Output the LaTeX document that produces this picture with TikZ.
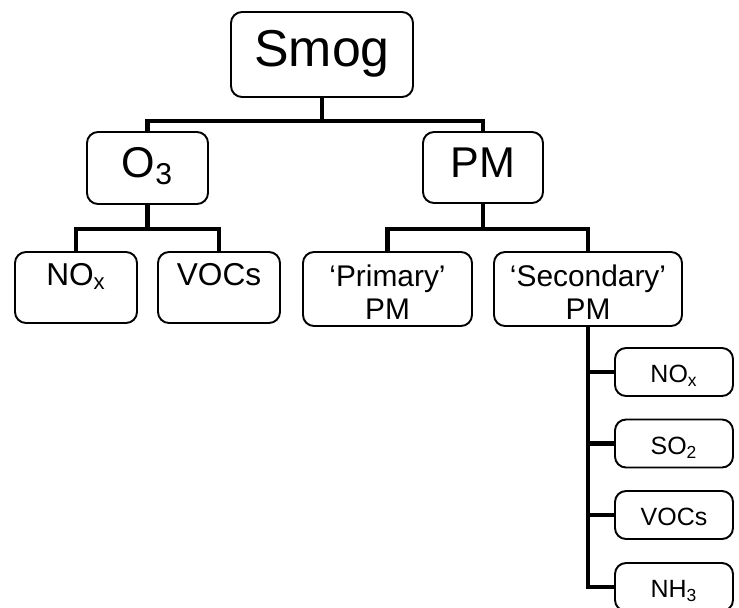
\documentclass[tikz,border=0pt]{standalone}
\usepackage{fontspec}
\setmainfont{Liberation Sans}

\begin{document}
\begin{tikzpicture}[
    box/.style={draw, line width=1.1pt, rounded corners=0.22cm, fill=white, align=center, inner sep=0pt},
    big/.style={font=\fontsize{29.5}{32}\selectfont, text height=21pt, text depth=6.8pt},
    mid/.style={font=\fontsize{24.5}{27}\selectfont, text height=12pt, text depth=0.7pt},
    low/.style={font=\fontsize{18}{19.5}\selectfont, text height=13pt, text depth=15.8pt},
    two/.style={font=\fontsize{17}{18.8}\selectfont},
    small/.style={font=\fontsize{14.2}{16}\selectfont, text height=12.5pt, text depth=0pt},
    link/.style={line width=2.4pt}
  ]
  \useasboundingbox (0,0) rectangle (14.78,-12.14);

  % Top level
  \node[box, big, minimum width=3.64cm, minimum height=1.70cm] (smog) at (6.44,-1.09) {Smog};

  % Second level
  \node[box, mid, minimum width=2.42cm, minimum height=1.44cm] (o3) at (2.95,-3.36) {O\textsubscript{3}};
  \node[box, mid, minimum width=2.40cm, minimum height=1.42cm] (pm) at (9.66,-3.35) {PM};

  % Third level
  \node[box, low, minimum width=2.44cm, minimum height=1.42cm] (nox) at (1.52,-5.75) {NO\textsubscript{x}};
  \node[box, low, minimum width=2.44cm, minimum height=1.42cm] (vocs) at (4.38,-5.75) {VOCs};
  \node[box, two, minimum width=3.38cm, minimum height=1.48cm] (prim) at (7.75,-5.78) {\rule{0pt}{0.95em}`Primary'\\PM};
  \node[box, two, minimum width=3.76cm, minimum height=1.48cm] (sec) at (11.76,-5.78) {\rule{0pt}{0.95em}`Secondary'\\PM};

  % Links between levels
  \draw[link] (smog.south) -- ++(0,-0.46) -| (o3.north);
  \draw[link] (smog.south) -- ++(0,-0.46) -| (pm.north);
  \draw[link] (o3.south) -- ++(0,-0.48) -| (nox.north);
  \draw[link] (o3.south) -- ++(0,-0.48) -| (vocs.north);
  \draw[link] (pm.south) -- ++(0,-0.50) -| (prim.north);
  \draw[link] (pm.south) -- ++(0,-0.50) -| (sec.north);

  % Precursors of secondary PM
  \foreach \name/\lbl/\y in {snox/NO\textsubscript{x}/-7.44, sso/SO\textsubscript{2}/-8.87, svocs/VOCs/-10.30, snh/NH\textsubscript{3}/-11.74} {
    \node[box, small, minimum width=2.36cm, minimum height=0.96cm] (\name) at (13.48,\y) {\lbl};
    \draw[link] (sec.south) |- (\name.west);
  }
\end{tikzpicture}
\end{document}
